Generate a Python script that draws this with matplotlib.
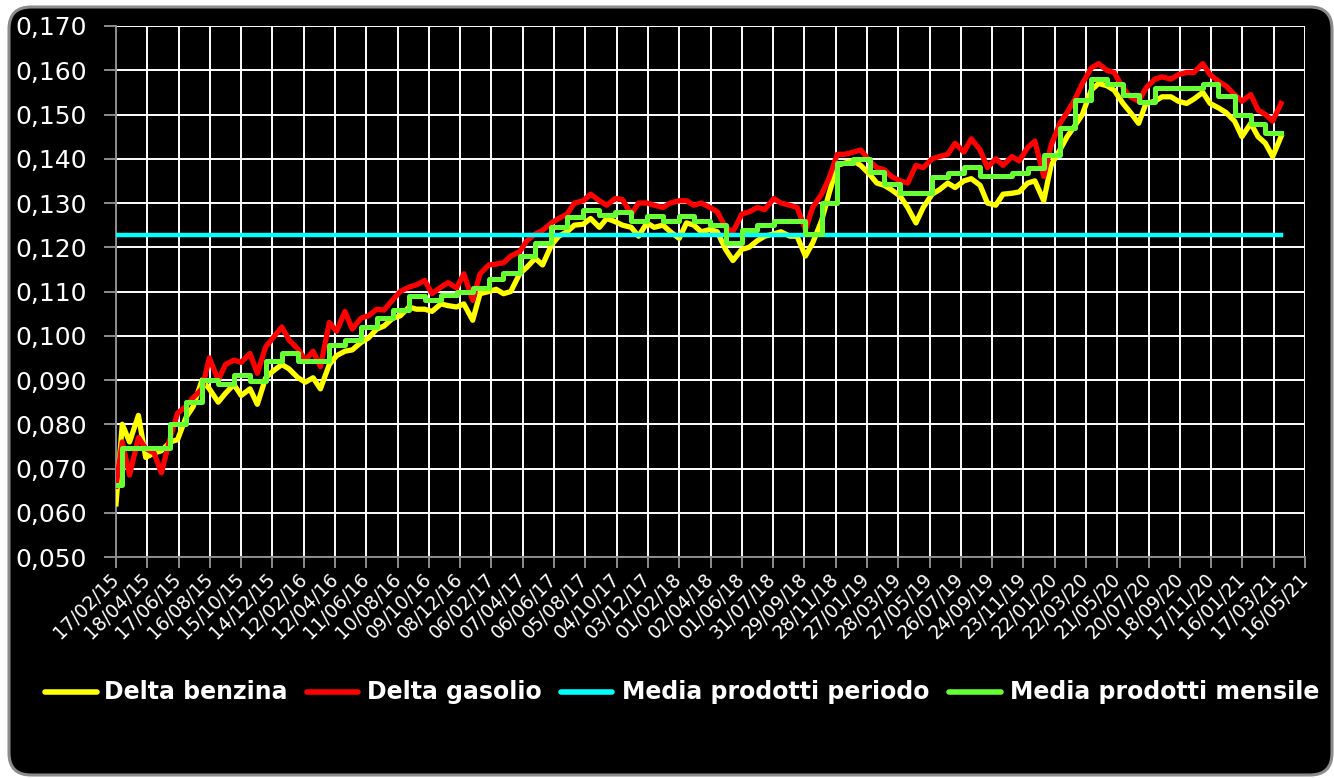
import matplotlib
matplotlib.use("Agg")
import matplotlib.pyplot as plt
import matplotlib.dates as mdates
from matplotlib.patches import FancyBboxPatch
from matplotlib.lines import Line2D
import numpy as np
import pandas as pd

plt.rcParams["font.family"] = ["DejaVu Sans"]

# ---- data ----
START = "2015-02-17"
END_DATA = "2021-03-31"
AXIS_END = "2021-05-16"

# semi-monthly readings: 17/02/15, then 1st and 15th of each month, then 31/03/21
DELTA_GASOLIO_2015 = [0.0660,
                      0.0760, 0.0685, 0.0770, 0.0745, 0.0735, 0.0690, 0.0770, 0.0825,
                      0.0840, 0.0860, 0.0880, 0.0950, 0.0900, 0.0935, 0.0945, 0.0940,
                      0.0960, 0.0915, 0.0975, 0.0995]
DELTA_GASOLIO_2016 = [0.1020, 0.0990, 0.0970, 0.0945, 0.0965, 0.0930, 0.1030, 0.1010,
                      0.1055, 0.1015, 0.1040, 0.1045, 0.1060, 0.1058, 0.1082, 0.1100,
                      0.1110, 0.1115, 0.1125, 0.1095, 0.1110, 0.1120, 0.1108, 0.1140]
DELTA_GASOLIO_2017 = [0.1080, 0.1140, 0.1160, 0.1162, 0.1165, 0.1180, 0.1190, 0.1215,
                      0.1230, 0.1238, 0.1255, 0.1265, 0.1275, 0.1300, 0.1305, 0.1320,
                      0.1305, 0.1295, 0.1310, 0.1308, 0.1275, 0.1300, 0.1300, 0.1295]
DELTA_GASOLIO_2018 = [0.1290, 0.1300, 0.1305, 0.1305, 0.1295, 0.1300, 0.1290, 0.1280,
                      0.1245, 0.1235, 0.1275, 0.1280, 0.1290, 0.1285, 0.1310, 0.1300,
                      0.1295, 0.1290, 0.1240, 0.1290, 0.1320, 0.1355, 0.1410, 0.1410]
DELTA_GASOLIO_2019 = [0.1415, 0.1420, 0.1395, 0.1380, 0.1375, 0.1360, 0.1350, 0.1345,
                      0.1385, 0.1380, 0.1400, 0.1405, 0.1410, 0.1435, 0.1415, 0.1445,
                      0.1420, 0.1380, 0.1400, 0.1385, 0.1405, 0.1395, 0.1425, 0.1440]
DELTA_GASOLIO_2020 = [0.1360, 0.1430, 0.1480, 0.1505, 0.1535, 0.1570, 0.1605, 0.1615,
                      0.1600, 0.1595, 0.1560, 0.1540, 0.1530, 0.1560, 0.1580, 0.1585,
                      0.1580, 0.1590, 0.1595, 0.1595, 0.1615, 0.1590, 0.1575, 0.1565]
DELTA_GASOLIO_2021 = [0.1545, 0.1530, 0.1545, 0.1510, 0.1500, 0.1485, 0.1525]

DELTA_BENZINA_2015 = [0.0620,
                      0.0800, 0.0760, 0.0820, 0.0725, 0.0735, 0.0740, 0.0760, 0.0765,
                      0.0815, 0.0840, 0.0900, 0.0880, 0.0850, 0.0870, 0.0890, 0.0865,
                      0.0880, 0.0845, 0.0905, 0.0920]
DELTA_BENZINA_2016 = [0.0935, 0.0925, 0.0905, 0.0895, 0.0905, 0.0880, 0.0935, 0.0955,
                      0.0965, 0.0968, 0.0985, 0.0995, 0.1015, 0.1022, 0.1040, 0.1045,
                      0.1065, 0.1060, 0.1060, 0.1055, 0.1072, 0.1068, 0.1065, 0.1072]
DELTA_BENZINA_2017 = [0.1035, 0.1095, 0.1100, 0.1105, 0.1095, 0.1100, 0.1140, 0.1155,
                      0.1175, 0.1160, 0.1205, 0.1225, 0.1235, 0.1250, 0.1252, 0.1265,
                      0.1245, 0.1265, 0.1258, 0.1250, 0.1245, 0.1225, 0.1255, 0.1245]
DELTA_BENZINA_2018 = [0.1250, 0.1235, 0.1220, 0.1255, 0.1250, 0.1235, 0.1240, 0.1235,
                      0.1195, 0.1170, 0.1195, 0.1200, 0.1215, 0.1225, 0.1230, 0.1235,
                      0.1225, 0.1225, 0.1180, 0.1210, 0.1260, 0.1320, 0.1385, 0.1390]
DELTA_BENZINA_2019 = [0.1395, 0.1385, 0.1365, 0.1345, 0.1340, 0.1330, 0.1315, 0.1290,
                      0.1255, 0.1290, 0.1320, 0.1330, 0.1345, 0.1335, 0.1350, 0.1355,
                      0.1340, 0.1300, 0.1295, 0.1320, 0.1322, 0.1325, 0.1345, 0.1350]
DELTA_BENZINA_2020 = [0.1305, 0.1385, 0.1420, 0.1450, 0.1475, 0.1500, 0.1555, 0.1570,
                      0.1565, 0.1555, 0.1525, 0.1505, 0.1480, 0.1525, 0.1530, 0.1540,
                      0.1540, 0.1530, 0.1525, 0.1535, 0.1550, 0.1525, 0.1515, 0.1505]
DELTA_BENZINA_2021 = [0.1485, 0.1450, 0.1480, 0.1450, 0.1435, 0.1405, 0.1450]

# monthly average of both products, Feb 2015 .. Mar 2021
MEDIA_MENSILE = [
    0.0662, 0.0747, 0.0747, 0.0747, 0.0800, 0.0850, 0.0900, 0.0890, 0.0911, 0.0898, 0.0942,
    0.0962, 0.0942, 0.0942, 0.0980, 0.0990, 0.1019, 0.1039, 0.1059, 0.1090, 0.1080, 0.1091, 0.1100,
    0.1109, 0.1128, 0.1141, 0.1180, 0.1210, 0.1245, 0.1268, 0.1284, 0.1272, 0.1280, 0.1260, 0.1270,
    0.1260, 0.1270, 0.1260, 0.1250, 0.1210, 0.1238, 0.1250, 0.1260, 0.1260, 0.1231, 0.1300, 0.1390,
    0.1400, 0.1370, 0.1343, 0.1322, 0.1322, 0.1358, 0.1367, 0.1381, 0.1360, 0.1360, 0.1367, 0.1379,
    0.1409, 0.1470, 0.1532, 0.1581, 0.1569, 0.1545, 0.1529, 0.1560, 0.1560, 0.1560, 0.1569, 0.1542,
    0.1500, 0.1479, 0.1459]

MEDIA_PERIODO = 0.1228

LABELS = ["Delta benzina", "Delta gasolio", "Media prodotti periodo", "Media prodotti mensile"]
COLORS = ["#ffff00", "#ff0000", "#00ffff", "#66ff33"]

gasolio = (DELTA_GASOLIO_2015 + DELTA_GASOLIO_2016 + DELTA_GASOLIO_2017 + DELTA_GASOLIO_2018
           + DELTA_GASOLIO_2019 + DELTA_GASOLIO_2020 + DELTA_GASOLIO_2021)
benzina = (DELTA_BENZINA_2015 + DELTA_BENZINA_2016 + DELTA_BENZINA_2017 + DELTA_BENZINA_2018
           + DELTA_BENZINA_2019 + DELTA_BENZINA_2020 + DELTA_BENZINA_2021)

t0, t_end, t_axis = pd.Timestamp(START), pd.Timestamp(END_DATA), pd.Timestamp(AXIS_END)
semi = pd.date_range("2015-03-01", "2021-03-15", freq="SMS")
days = [t0] + list(semi) + [t_end]
months = [t0] + list(pd.date_range("2015-03-01", "2021-03-01", freq="MS")) + [t_end]
mensile = MEDIA_MENSILE + [MEDIA_MENSILE[-1]]

W, H = 1334, 778
fig = plt.figure(figsize=(W / 100, H / 100), dpi=100, facecolor="white")

# black rounded chart frame
frame = FancyBboxPatch((9 / 100, 3 / 100), 1323 / 100, 768 / 100,
                       boxstyle="round,pad=0,rounding_size=0.22",
                       transform=fig.dpi_scale_trans, facecolor="black",
                       edgecolor="#8c8c8c", linewidth=2.2, zorder=-5)
fig.patches.append(frame)

ax = fig.add_axes([116 / W, 1 - 557 / H, (1305 - 116) / W, (557 - 26) / H])
ax.set_zorder(2)
ax.set_facecolor("black")

ax.plot(days, benzina, color=COLORS[0], lw=3.8, solid_joinstyle="round", zorder=3)
ax.plot(days, gasolio, color=COLORS[1], lw=3.8, solid_joinstyle="round", zorder=4)
ax.plot([t0, t_end], [MEDIA_PERIODO, MEDIA_PERIODO], color=COLORS[2], lw=3.2, zorder=5)
ax.step(months, mensile, where="post", color=COLORS[3], lw=3.6, zorder=6)

ax.set_ylim(0.05, 0.17)
ax.set_yticks(np.arange(0.05, 0.1701, 0.01))
ax.yaxis.set_major_formatter(plt.FuncFormatter(lambda v, p: f"{v:.3f}".replace(".", ",")))
ax.set_xlim(t0, t_axis)
xt = pd.date_range(t0, t_axis, freq="60D")
ax.set_xticks(xt)
ax.xaxis.set_major_formatter(mdates.DateFormatter("%d/%m/%y"))

ax.grid(True, color="white", lw=1.4)
ax.set_axisbelow(True)
for s in ("top", "right"):
    ax.spines[s].set_visible(False)
for s in ("left", "bottom"):
    ax.spines[s].set_color("#8c8c8c")
    ax.spines[s].set_linewidth(1.4)

ax.tick_params(axis="y", colors="#8c8c8c", labelcolor="white", length=9, width=1.4,
               labelsize=18, pad=12)
ax.tick_params(axis="x", colors="#8c8c8c", labelcolor="white", length=8, width=1.4,
               labelsize=13.5, pad=6)
for lab in ax.get_xticklabels():
    lab.set_rotation(45)
    lab.set_ha("right")
    lab.set_va("center")
    lab.set_rotation_mode("anchor")

# legend drawn by hand below the axes
ly = 1 - 692 / H
line_x = [(45, 97), (307, 358), (561, 612), (949, 1001)]
text_x = [104, 367, 622, 1010]
for (a, b), tx, c, lab in zip(line_x, text_x, COLORS, LABELS):
    fig.add_artist(Line2D([a / W, b / W], [ly, ly], color=c, lw=4,
                          solid_capstyle="round", transform=fig.transFigure))
    fig.text(tx / W, ly, lab, color="white", fontsize=17, fontweight="bold",
             va="center", ha="left")

fig.savefig("out.png", dpi=100, facecolor="white")
